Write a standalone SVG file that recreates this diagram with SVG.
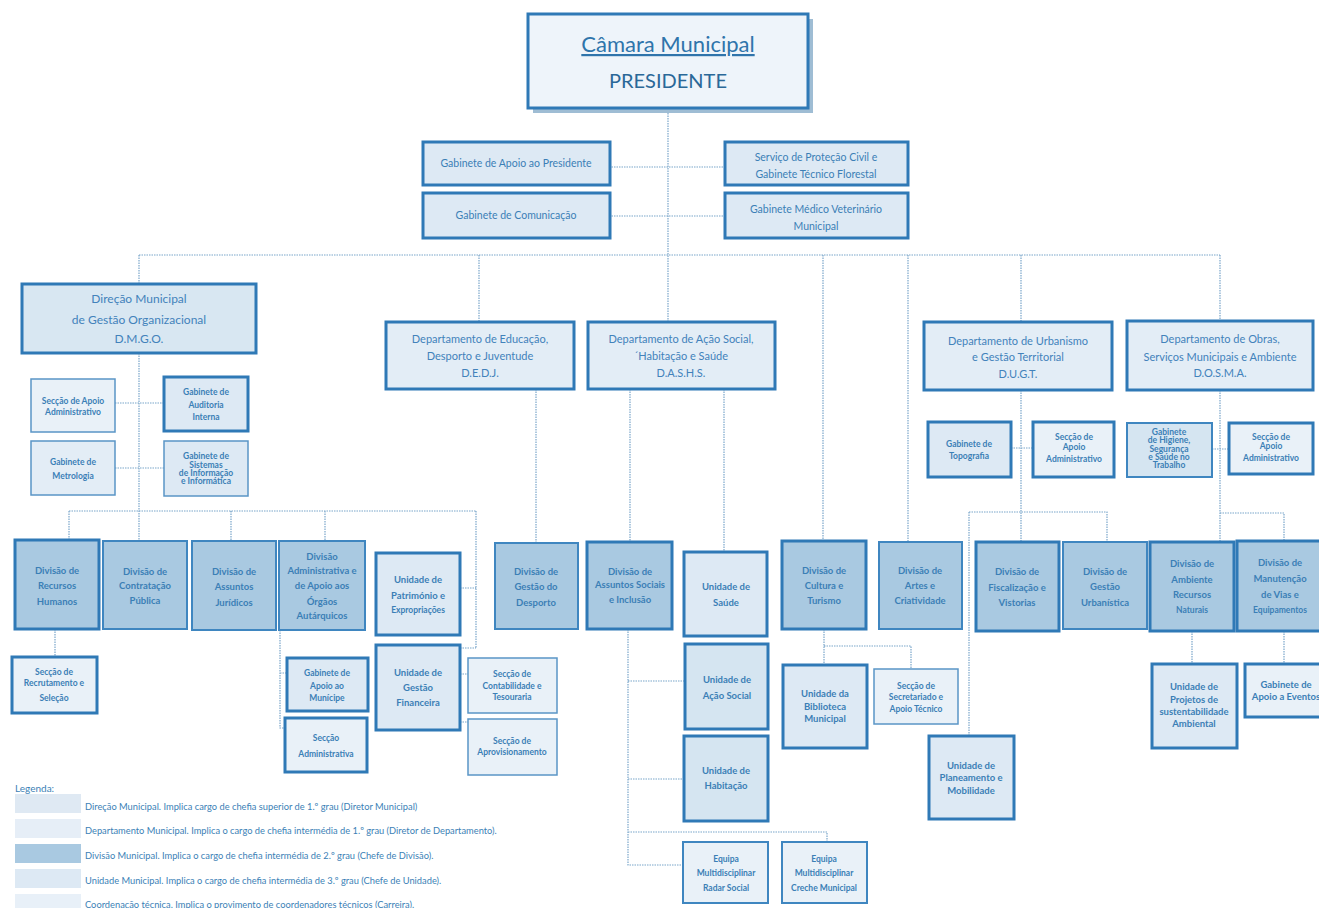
<svg xmlns="http://www.w3.org/2000/svg" width="1319" height="908" viewBox="0 0 1319 908">
<style>
rect.b{stroke:#3f86c0;stroke-width:2}
rect.k{stroke:#2f79b6;stroke-width:3}
rect.l{stroke:#5a95c6;stroke-width:1.5}
.fd{fill:#a9c9e1}.fu{fill:#dde9f4}.fa{fill:#d5e5f1}.fs{fill:#e9f1f8}.fp{fill:#e3edf6}.fm{fill:#d8e7f2}.ft{fill:#eef4fa}
text{font-family:Lato,"Open Sans","Liberation Sans",sans-serif;fill:#3b7fb6;text-anchor:middle;font-weight:700;font-size:9.5px}
text.r{font-weight:400;font-size:10.5px}
text.s{font-size:8.5px}
text.d{font-weight:400;font-size:11px;fill:#4282bb}
text.g{text-anchor:start;font-weight:400;font-size:9.3px;fill:#3b7fb6}
#conn path{fill:none;stroke:#7aa6ca;stroke-width:1.2;stroke-dasharray:1.5 1}
</style>
<rect width="1319" height="908" fill="#ffffff"/>
<g id="conn">
<path d="M668 108V322"/>
<path d="M609 167H725M609 216H725"/>
<path d="M139 255H1220"/>
<path d="M139 255V285M479 255V322M823 255V541M908 255V542M1021 255V322M1220 255V322"/>
<path d="M139 353V541M115 403H164M115 468H164"/>
<path d="M69 511H476M69 511V540M231 511V541M325 511V541M476 511V648M460 588H476M460 648H476"/>
<path d="M55 629V657M280 630V728H285M280 673H287M460 674H468M460 722H468"/>
<path d="M536 389V543M630 389V542M724 389V552"/>
<path d="M628 629V865H683M628 681H685M628 779H684M628 832H827V842"/>
<path d="M824 629V665M824 646H911V669"/>
<path d="M1021 390V542M1011 448H1033M1220 390V542M1212 449H1229"/>
<path d="M969 512H1107V542M969 512V736"/>
<path d="M1220 513H1284V541"/>
<path d="M1192 631V664M1284 631V664"/>
</g>
<g id="camara">
<rect x="533" y="19" width="280" height="94" fill="#9fbdd4"/>
<rect class="k" x="528" y="14" width="280" height="94" fill="#eef4fa" stroke="#5e9bcc"/>
<text x="668" y="52" style="font-size:22px;font-weight:400;fill:#2f74ab;text-decoration:underline">Câmara Municipal</text>
<text x="668" y="88" style="font-size:20px;font-weight:400;fill:#2a6898">PRESIDENTE</text>
</g>
<g id="gap"><rect class="k" x="423" y="142" width="187" height="43" fill="#dde9f4" stroke="#4a8cc4"/><text class="r" x="516" y="167">Gabinete de Apoio ao Presidente</text></g>
<g id="gcom"><rect class="k" x="423" y="193" width="187" height="45" fill="#dde9f4" stroke="#4a8cc4"/><text class="r" x="516" y="219">Gabinete de Comunicação</text></g>
<g id="spc"><rect class="k" x="725" y="142" width="183" height="43" fill="#dde9f4" stroke="#4a8cc4"/><text class="r" x="816" y="161">Serviço de Proteção Civil e</text><text class="r" x="816" y="178">Gabinete Técnico Florestal</text></g>
<g id="gmv"><rect class="k" x="725" y="193" width="183" height="45" fill="#dde9f4" stroke="#4a8cc4"/><text class="r" x="816" y="213">Gabinete Médico Veterinário</text><text class="r" x="816" y="230">Municipal</text></g>

<g id="dmgo"><rect class="k fm" x="22" y="284" width="234" height="69" stroke="#4a8cc4"/><text class="d" style="font-size:12px" x="139" y="303">Direção Municipal</text><text class="d" style="font-size:12px" x="139" y="324">de Gestão Organizacional</text><text class="d" style="font-size:12px" x="139" y="343">D.M.G.O.</text></g>
<g id="dedj"><rect class="k fp" x="386" y="322" width="188" height="67" stroke="#4a8cc4"/><text class="d" x="480" y="343">Departamento de Educação,</text><text class="d" x="480" y="360">Desporto  e Juventude</text><text class="d" x="480" y="377">D.E.D.J.</text></g>
<g id="dashs"><rect class="k fp" x="588" y="322" width="187" height="67" stroke="#4a8cc4"/><text class="d" x="681" y="343">Departamento  de Ação Social,</text><text class="d" x="681" y="360">´Habitação e Saúde</text><text class="d" x="681" y="377">D.A.S.H.S.</text></g>
<g id="dugt"><rect class="k fp" x="924" y="322" width="188" height="68" stroke="#4a8cc4"/><text class="d" x="1018" y="345">Departamento de Urbanismo</text><text class="d" x="1018" y="361">e Gestão Territorial</text><text class="d" x="1018" y="378">D.U.G.T.</text></g>
<g id="dosma"><rect class="k fp" x="1127" y="321" width="186" height="69" stroke="#4a8cc4"/><text class="d" x="1220" y="343">Departamento de Obras,</text><text class="d" x="1220" y="361">Serviços Municipais e Ambiente</text><text class="d" x="1220" y="377">D.O.S.M.A.</text></g>

<g id="saa1"><rect class="l fs" x="31" y="379" width="84" height="53"/><text class="s" x="73" y="404">Secção de Apoio</text><text class="s" x="73" y="415">Administrativo</text></g>
<g id="gai"><rect class="k fu" x="164" y="377" width="84" height="54"/><text class="s" x="206" y="395">Gabinete de</text><text class="s" x="206" y="408">Auditoria</text><text class="s" x="206" y="420">Interna</text></g>
<g id="gmet"><rect class="l fp" x="31" y="441" width="84" height="54"/><text class="s" x="73" y="465">Gabinete de</text><text class="s" x="73" y="479">Metrologia</text></g>
<g id="gsi"><rect class="l fu" x="164" y="441" width="84" height="55"/><text class="s" x="206" y="459">Gabinete de</text><text class="s" x="206" y="468">Sistemas</text><text class="s" x="206" y="476">de Informação</text><text class="s" x="206" y="484">e Informática</text></g>

<g id="drh"><rect class="k fd" x="15" y="540" width="84" height="89"/><text x="57" y="574">Divisão de</text><text x="57" y="589">Recursos</text><text x="57" y="605">Humanos</text></g>
<g id="dcp"><rect class="b fd" x="103" y="541" width="84" height="88"/><text x="145" y="575">Divisão de</text><text x="145" y="589">Contratação</text><text x="145" y="604">Pública</text></g>
<g id="daj"><rect class="b fd" x="192" y="541" width="84" height="89"/><text x="234" y="575">Divisão de</text><text x="234" y="590">Assuntos</text><text x="234" y="606">Jurídicos</text></g>
<g id="dad"><rect class="b fd" x="279" y="541" width="86" height="89"/><text x="322" y="560">Divisão</text><text x="322" y="574">Administrativa e</text><text x="322" y="589">de Apoio aos</text><text x="322" y="605">Órgãos</text><text x="322" y="619">Autárquicos</text></g>
<g id="upe"><rect class="k fu" x="376" y="553" width="84" height="82"/><text x="418" y="583">Unidade de</text><text x="418" y="599">Património e</text><text class="s" x="418" y="613">Expropriações</text></g>
<g id="ugf"><rect class="k fu" x="376" y="645" width="84" height="85"/><text x="418" y="676">Unidade de</text><text x="418" y="691">Gestão</text><text x="418" y="706">Financeira</text></g>
<g id="dgd"><rect class="b fd" x="495" y="543" width="83" height="86"/><text x="536" y="575">Divisão de</text><text x="536" y="590">Gestão do</text><text x="536" y="606">Desporto</text></g>
<g id="srs"><rect class="k fs" x="12" y="657" width="85" height="56"/><text class="s" x="54" y="675">Secção de</text><text class="s" x="54" y="686">Recrutamento e</text><text class="s" x="54" y="701">Seleção</text></g>
<g id="gam"><rect class="k fu" x="287" y="658" width="81" height="53" stroke-width="2.5"/><text class="s" x="327" y="676">Gabinete de</text><text class="s" x="327" y="689">Apoio ao</text><text class="s" x="327" y="701">Munícipe</text></g>
<g id="sad"><rect class="k fs" x="285" y="718" width="82" height="54"/><text class="s" x="326" y="741">Secção</text><text class="s" x="326" y="757">Administrativa</text></g>
<g id="sct"><rect class="l fs" x="468" y="658" width="89" height="55"/><text class="s" x="512" y="677">Secção de</text><text class="s" x="512" y="689">Contabilidade e</text><text class="s" x="512" y="700">Tesouraria</text></g>
<g id="sap"><rect class="l fs" x="468" y="719" width="89" height="56"/><text class="s" x="512" y="744">Secção de</text><text class="s" x="512" y="755">Aprovisionamento</text></g>

<g id="dasi"><rect class="k fd" x="587" y="542" width="85" height="87"/><text x="630" y="575">Divisão de</text><text x="630" y="588">Assuntos Sociais</text><text x="630" y="603">e Inclusão</text></g>
<g id="usa"><rect class="k fu" x="684" y="552" width="83" height="84"/><text x="726" y="590">Unidade de</text><text x="726" y="606">Saúde</text></g>
<g id="uas"><rect class="k fa" x="685" y="644" width="83" height="85"/><text x="727" y="683">Unidade de</text><text x="727" y="699">Ação Social</text></g>
<g id="uha"><rect class="k fa" x="684" y="736" width="84" height="85"/><text x="726" y="774">Unidade de</text><text x="726" y="789">Habitação</text></g>
<g id="emr"><rect class="b fs" x="683" y="842" width="85" height="61" stroke-width="2.5"/><text class="s" x="726" y="862">Equipa</text><text class="s" x="726" y="876">Multidisciplinar</text><text class="s" x="726" y="891">Radar Social</text></g>
<g id="emc"><rect class="b fs" x="782" y="842" width="85" height="61" stroke-width="2.5"/><text class="s" x="824" y="862">Equipa</text><text class="s" x="824" y="876">Multidisciplinar</text><text class="s" x="824" y="891">Creche Municipal</text></g>

<g id="dct"><rect class="k fd" x="782" y="541" width="84" height="88"/><text x="824" y="574">Divisão de</text><text x="824" y="589">Cultura e</text><text x="824" y="604">Turismo</text></g>
<g id="dac"><rect class="b fd" x="879" y="542" width="83" height="87"/><text x="920" y="574">Divisão de</text><text x="920" y="589">Artes e</text><text x="920" y="604">Criatividade</text></g>
<g id="ubm"><rect class="k fu" x="783" y="665" width="84" height="83"/><text x="825" y="697">Unidade da</text><text x="825" y="710">Biblioteca</text><text x="825" y="722">Municipal</text></g>
<g id="ssat"><rect class="l fs" x="874" y="669" width="84" height="55"/><text class="s" x="916" y="689">Secção de</text><text class="s" x="916" y="700">Secretariado e</text><text class="s" x="916" y="712">Apoio Técnico</text></g>

<g id="gtop"><rect class="k fu" x="928" y="422" width="83" height="55"/><text class="s" x="969" y="447">Gabinete de</text><text class="s" x="969" y="459">Topografia</text></g>
<g id="saa2"><rect class="k fs" x="1033" y="422" width="81" height="55"/><text class="s" x="1074" y="440">Secção  de</text><text class="s" x="1074" y="450">Apoio</text><text class="s" x="1074" y="462">Administrativo</text></g>
<g id="ghs"><rect class="b fa" x="1127" y="423" width="85" height="54" stroke-width="2.5"/><text class="s" x="1169" y="435">Gabinete</text><text class="s" x="1169" y="443">de Higiene,</text><text class="s" x="1169" y="452">Segurança</text><text class="s" x="1169" y="460">e Saúde no</text><text class="s" x="1169" y="468">Trabalho</text></g>
<g id="saa3"><rect class="k fs" x="1229" y="423" width="84" height="51"/><text class="s" x="1271" y="440">Secção  de</text><text class="s" x="1271" y="449">Apoio</text><text class="s" x="1271" y="461">Administrativo</text></g>

<g id="dfv"><rect class="k fd" x="976" y="542" width="83" height="89"/><text x="1017" y="575">Divisão de</text><text x="1017" y="591">Fiscalização e</text><text x="1017" y="606">Vistorias</text></g>
<g id="dgu"><rect class="b fd" x="1063" y="542" width="84" height="87"/><text x="1105" y="575">Divisão de</text><text x="1105" y="590">Gestão</text><text x="1105" y="606">Urbanística</text></g>
<g id="darn"><rect class="k fd" x="1150" y="542" width="84" height="89"/><text x="1192" y="567">Divisão de</text><text x="1192" y="583">Ambiente</text><text x="1192" y="598">Recursos</text><text class="s" x="1192" y="613">Naturais</text></g>
<g id="dmve"><rect class="k fd" x="1237" y="541" width="85" height="90"/><text x="1280" y="566">Divisão de</text><text x="1280" y="582">Manutenção</text><text x="1280" y="598">de Vias e</text><text class="s" x="1280" y="613">Equipamentos</text></g>
<g id="upm"><rect class="k fu" x="929" y="736" width="85" height="83"/><text x="971" y="769">Unidade de</text><text x="971" y="781">Planeamento e</text><text x="971" y="794">Mobilidade</text></g>
<g id="ups"><rect class="k fu" x="1152" y="664" width="85" height="84"/><text x="1194" y="690">Unidade de</text><text x="1194" y="703">Projetos de</text><text x="1194" y="715">sustentabilidade</text><text x="1194" y="727">Ambiental</text></g>
<g id="gae"><rect class="k fs" x="1245" y="664" width="82" height="53"/><text x="1286" y="688">Gabinete de</text><text x="1286" y="700">Apoio a Eventos</text></g>

<g id="legenda">
<text class="g" style="font-size:10px" x="15" y="792">Legenda:</text>
<rect x="15" y="794" width="66" height="19" fill="#dfe9f3"/>
<rect x="15" y="819" width="66" height="19" fill="#e6eef7"/>
<rect x="15" y="844" width="66" height="19" fill="#a9c9e1"/>
<rect x="15" y="869" width="66" height="19" fill="#dde9f4"/>
<rect x="15" y="894" width="66" height="19" fill="#e8f0f8"/>
<text class="g" x="85" y="810">Direção Municipal. Implica cargo de chefia superior de 1.º grau (Diretor Municipal)</text>
<text class="g" x="85" y="834">Departamento Municipal. Implica o cargo de chefia intermédia de 1.º grau (Diretor de Departamento).</text>
<text class="g" x="85" y="859">Divisão Municipal. Implica o cargo de chefia intermédia de 2.º grau (Chefe de Divisão).</text>
<text class="g" x="85" y="884">Unidade Municipal. Implica o cargo de chefia intermédia de 3.º grau (Chefe de Unidade).</text>
<text class="g" x="85" y="908">Coordenação técnica. Implica o provimento de coordenadores técnicos (Carreira).</text>
</g>
</svg>
